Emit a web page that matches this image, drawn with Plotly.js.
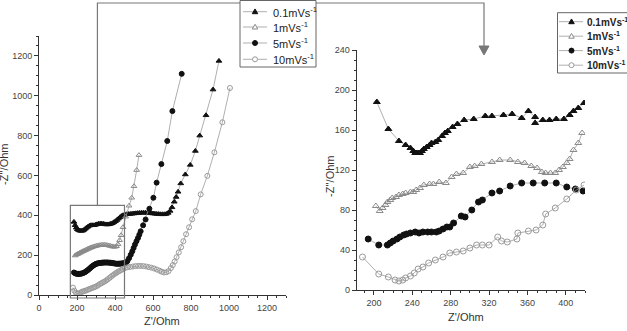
<!DOCTYPE html>
<html>
<head>
<meta charset="utf-8">
<script src="https://cdn.plot.ly/plotly-3.0.1.min.js"></script>
<style>
  html, body { margin: 0; padding: 0; background: #fff; }
  #chart { width: 627px; height: 331px; }
</style>
</head>
<body>
<div id="chart"></div>
<script>
// Scan-rate labels shared by both panels
const rateLabels = ['0.1mVs<sup>-1</sup>', '1mVs<sup>-1</sup>', '5mVs<sup>-1</sup>', '10mVs<sup>-1</sup>'];

// Full Nyquist plot: Z' (Ohm) vs -Z'' (Ohm)
const full01X = [184,190,196,202,208,214,220,226,232,238,244,250,258,266,274,282,290,298,306,314,322,330,338,346,354,362,370,378,386,394,402,410,418,426,434,442,450,460,470,480,490,500,510,520,530,540,550,560,570,580,590,600,610,620,630,640,650,660,670,680,690,700,712,722,732,746,770,796,823,846,879,916,947];
const full01Y = [367,350,338,330,326,323,322,322,324,328,333,338,343,348,350,350,350,352,355,357,358,358,357,355,354,354,355,357,360,365,370,376,383,390,396,400,403,405,406,407,408,409,410,411,412,413,413,413,412,411,410,409,408,407,406,405,405,405,407,412,422,440,468,492,518,560,605,653,723,800,902,1031,1175];

const full1X = [190,196,202,208,214,220,226,232,238,244,250,256,262,268,274,280,288,296,304,312,320,328,336,344,352,360,368,376,384,392,400,408,416,424,432,442,456,474,488,500,514,526];
const full1Y = [198,202,205,208,211,214,217,220,222,225,228,231,233,236,238,240,243,245,247,249,250,251,252,252,251,250,248,246,244,242,242,245,255,275,300,340,393,448,488,546,627,702];

const full5X = [184,190,196,202,208,214,220,226,232,238,244,250,256,262,268,274,280,286,292,298,304,310,316,322,328,334,340,346,352,358,364,370,376,382,388,394,400,406,412,418,424,430,436,442,448,456,465,474,483,491,498,505,513,521,528,535,548,561,581,602,619,644,675,702,751];
const full5Y = [113,109,107,106,106,106,107,108,110,113,116,120,124,129,134,139,144,148,152,155,157,159,160,161,162,162,163,163,163,163,163,162,162,161,160,159,158,157,157,157,157,158,158,159,160,160,170,185,202,219,236,253,270,286,303,320,350,379,433,488,564,657,773,923,1110];

const full10X = [179,186,194,202,210,218,226,234,242,250,258,266,274,282,290,298,306,314,322,330,338,346,354,362,370,378,386,394,402,410,418,426,434,442,452,466,480,494,508,522,536,550,564,578,592,606,620,634,646,658,670,682,694,704,714,724,736,748,760,774,790,806,825,851,886,923,965,1005];
const full10Y = [37,22,11,7,8,12,16,19,21,24,27,30,33,36,39,42,46,51,56,60,64,68,73,79,85,91,97,103,108,113,118,122,126,130,135,139,141,143,145,146,146,145,143,140,137,133,128,122,117,113,114,120,135,150,168,190,214,240,270,305,340,380,421,505,598,716,867,1039];

// Detail panel: low-Z' region
const det01X = [203,215,226,233,238,241,243,244,246,248,250,252,255,258,260,264,267,271,274,277,282,287,294,304,316,323,335,344,354,361,368,368,376,383,390,398,404,408,413,419];
const det01Y = [188,161,149,145,142,139,137,137,137,137,139,141,143,145,147,148,150,154,157,159,163,166,170,171,174,174,175,176,172,179,173,167,170,170,171,171,175,179,182,187];

const det1X = [202,206,209,212,214,217,219,223,226,230,233,238,241,244,248,252,258,262,268,275,281,286,293,300,305,312,323,331,342,350,357,364,370,375,379,384,389,393,397,401,404,408,413,417];
const det1Y = [84,79,82,85,88,90,92,93,95,96,97,98,98,100,102,105,106,106,108,107,113,116,117,123,124,126,128,130,130,128,127,124,122,118,117,117,117,120,123,127,131,140,147,157];

const det5X = [194,205,214,217,220,224,227,231,234,238,243,247,251,256,260,265,268,272,276,279,283,291,295,302,309,313,323,331,342,354,366,378,390,401,410,418];
const det5Y = [51,45,45,47,49,51,53,55,56,57,58,57,58,58,58,58,59,61,63,63,67,74,73,80,88,90,97,99,104,107,107,107,107,103,101,99];

const det10X = [188,205,215,222,226,230,233,238,242,246,251,257,264,272,279,286,293,300,307,313,320,329,333,339,349,350,361,369,376,379,389,401,411,419];
const det10Y = [33,16,13,10,9,10,12,14,17,21,23,27,30,33,37,38,39,42,45,45,45,53,49,48,51,57,59,60,65,76,82,91,100,105];

// Window of the full plot that the detail panel enlarges
const zoomWindowX = [165, 450];
const zoomWindowY = [-15, 450];

// Axis ranges
const fullRange = [0, 1300];
const detXRange = [182, 420];
const detYRange = [0, 240];

// Page geometry (px) used to place overlay decorations
const W = 627, H = 331;
const M = { l: 39, r: 42, t: 36, b: 36 };
const plotW = W - M.l - M.r, plotH = H - M.t - M.b;
const px2paperX = px => (px - M.l) / plotW;
const px2paperY = py => (H - M.b - py) / plotH;

const leftDomX = [0, px2paperX(286)];
const leftDomY = [0, 1];
const rightDomX = [px2paperX(356.7), 1];
const rightDomY = [px2paperY(290), px2paperY(50)];

// data -> paper on the full plot
const fullXToPaper = v => leftDomX[0] + (leftDomX[1] - leftDomX[0]) * (v - fullRange[0]) / (fullRange[1] - fullRange[0]);
const fullYToPaper = v => leftDomY[0] + (leftDomY[1] - leftDomY[0]) * (v - fullRange[0]) / (fullRange[1] - fullRange[0]);

const styles = [
  { symbol: 'triangle-up', color: '#111111', filled: true },
  { symbol: 'triangle-up-open', color: '#8a8a8a', filled: false },
  { symbol: 'circle', color: '#111111', filled: true },
  { symbol: 'circle-open', color: '#9a9a9a', filled: false }
];
const lineColor = '#9a9a9a';

function series(x, y, i, xa, ya, size) {
  return {
    x: x, y: y, xaxis: xa, yaxis: ya,
    type: 'scatter', mode: 'lines+markers',
    name: rateLabels[i], showlegend: false,
    line: { color: lineColor, width: 0.8 },
    marker: { symbol: styles[i].symbol, color: styles[i].color, size: size, line: { width: 1, color: styles[i].color } }
  };
}

const traces = [
  series(full01X, full01Y, 0, 'x', 'y', 5),
  series(full1X, full1Y, 1, 'x', 'y', 5),
  series(full5X, full5Y, 2, 'x', 'y', 5),
  series(full10X, full10Y, 3, 'x', 'y', 5),
  series(det01X, det01Y, 0, 'x2', 'y2', 6),
  series(det1X, det1Y, 1, 'x2', 'y2', 6),
  series(det5X, det5Y, 2, 'x2', 'y2', 6),
  series(det10X, det10Y, 3, 'x2', 'y2', 6)
];

const tickFont = { family: 'Liberation Sans, Arial, sans-serif', size: 9, color: '#444' };
function axis(extra) {
  return Object.assign({
    showline: true, linecolor: '#333', linewidth: 1,
    showgrid: false, zeroline: false,
    ticks: 'outside', ticklen: 4, tickwidth: 1, tickcolor: '#333',
    tickfont: tickFont, fixedrange: true
  }, extra);
}

const axisTitleFont = { family: 'Liberation Sans, Arial, sans-serif', size: 11, color: '#333' };
function label(text, px, py, angle, font, anchor) {
  return {
    text: text, xref: 'paper', yref: 'paper',
    x: px2paperX(px), y: px2paperY(py), xanchor: anchor || 'center', yanchor: 'middle',
    showarrow: false, textangle: angle || 0, font: font || axisTitleFont, borderpad: 0
  };
}

// Zoom window box and the connector arrow to the detail panel
const boxX0 = fullXToPaper(zoomWindowX[0]), boxX1 = fullXToPaper(zoomWindowX[1]);
const boxY0 = fullYToPaper(zoomWindowY[0]), boxY1 = fullYToPaper(zoomWindowY[1]);
const boxMidX = (boxX0 + boxX1) / 2;
const arrowX = px2paperX(484);
const topY = px2paperY(3);
const arrowBaseY = px2paperY(46), arrowTipY = px2paperY(55);
const halfHead = 5 / plotW;

const shapes = [
  { type: 'rect', xref: 'paper', yref: 'paper', x0: boxX0, x1: boxX1, y0: boxY0, y1: boxY1,
    line: { color: '#777', width: 1.2 }, fillcolor: 'rgba(0,0,0,0)' },
  { type: 'path', xref: 'paper', yref: 'paper',
    path: `M ${boxMidX} ${boxY1} L ${boxMidX} ${topY} L ${arrowX} ${topY} L ${arrowX} ${arrowBaseY}`,
    line: { color: '#777', width: 1.2 } },
  { type: 'path', xref: 'paper', yref: 'paper',
    path: `M ${arrowX - halfHead} ${arrowBaseY} L ${arrowX + halfHead} ${arrowBaseY} L ${arrowX} ${arrowTipY} Z`,
    line: { color: '#777', width: 1 }, fillcolor: '#777' }
];
const annotations = [
  label("Z'/Ohm", 162, 321),
  label("Z'/Ohm", 466, 317),
  label("-Z''/Ohm", 4, 165, -90),
  label("-Z''/Ohm", 330, 177, -90)
];

// Legend boxes: key line, key symbol and rate label per row
function addLegend(box, rows, lineSpan, keyX, textX, keySize, font) {
  shapes.push({ type: 'rect', xref: 'paper', yref: 'paper',
    x0: px2paperX(box[0]), x1: px2paperX(box[2]), y0: px2paperY(box[3]), y1: px2paperY(box[1]),
    line: { color: '#666', width: 1 }, fillcolor: '#fff' });
  rows.forEach((cy, i) => {
    const st = styles[i];
    shapes.push({ type: 'line', xref: 'paper', yref: 'paper',
      x0: px2paperX(lineSpan[0]), x1: px2paperX(lineSpan[1]), y0: px2paperY(cy), y1: px2paperY(cy),
      line: { color: lineColor, width: 0.8 } });
    const r = keySize / 2;
    const key = { xref: 'paper', yref: 'paper',
      line: { color: st.color, width: 1 }, fillcolor: st.filled ? st.color : '#fff' };
    if (st.symbol.indexOf('triangle') === 0) {
      key.type = 'path';
      key.path = `M ${px2paperX(keyX)} ${px2paperY(cy - r * 1.1)} L ${px2paperX(keyX - r * 1.1)} ${px2paperY(cy + r * 0.8)} L ${px2paperX(keyX + r * 1.1)} ${px2paperY(cy + r * 0.8)} Z`;
    } else {
      key.type = 'circle';
      key.x0 = px2paperX(keyX - r); key.x1 = px2paperX(keyX + r);
      key.y0 = px2paperY(cy + r); key.y1 = px2paperY(cy - r);
    }
    shapes.push(key);
    annotations.push(label(rateLabels[i], textX, cy, 0, font, 'left'));
  });
}

addLegend([240, 0.5, 316, 67], [11.7, 27, 43, 59.3], [243, 267], 255, 271.5, 5,
  { family: 'Liberation Sans, Arial, sans-serif', size: 11, color: '#222' });
addLegend([557.5, 12.7, 632, 73], [21.7, 36.2, 50.6, 65.2], [559, 583], 571.5, 585.5, 5,
  { family: 'Liberation Sans, Arial, sans-serif', size: 10, color: '#222', weight: 'bold' });

const layout = {
  width: W, height: H,
  margin: { l: M.l, r: M.r, t: M.t, b: M.b, autoexpand: false },
  paper_bgcolor: '#fff', plot_bgcolor: '#fff',
  showlegend: false,
  xaxis: axis({ domain: leftDomX, range: fullRange, anchor: 'y', tick0: 0, dtick: 200,
    minor: { dtick: 50, ticks: 'outside', ticklen: 2, tickcolor: '#333', showgrid: false } }),
  yaxis: axis({ domain: leftDomY, range: fullRange, anchor: 'x', tick0: 0, dtick: 200,
    minor: { dtick: 50, ticks: 'outside', ticklen: 2, tickcolor: '#333', showgrid: false } }),
  xaxis2: axis({ domain: rightDomX, range: detXRange, anchor: 'y2', tick0: 0, dtick: 40,
    minor: { dtick: 10, ticks: 'outside', ticklen: 2, tickcolor: '#333', showgrid: false } }),
  yaxis2: axis({ domain: rightDomY, range: detYRange, anchor: 'x2', tick0: 0, dtick: 40,
    minor: { dtick: 10, ticks: 'outside', ticklen: 2, tickcolor: '#333', showgrid: false } }),
  annotations: annotations,
  shapes: shapes
};

Plotly.newPlot('chart', traces, layout, { staticPlot: true, displayModeBar: false });
</script>
</body>
</html>
